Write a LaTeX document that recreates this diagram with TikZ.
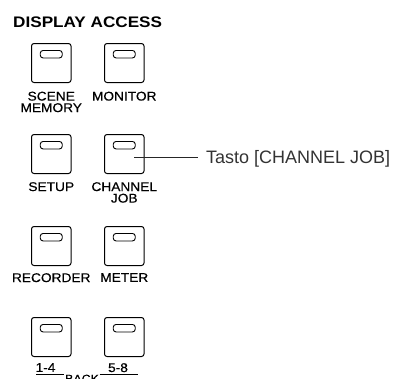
\documentclass[tikz,border=0pt]{standalone}
\usepackage{fontspec}
\setmainfont{Liberation Sans}
\newfontfamily\lblfont[FakeStretch=1.08,FakeBold=0.35]{Liberation Sans}
\newfontfamily\ttlfont[FakeStretch=1.12]{Liberation Sans}
\begin{document}
\begin{tikzpicture}[x=1pt,y=-1pt,
  btn/.style={draw, line width=1pt, rounded corners=2.5pt, minimum width=39.5pt, minimum height=39pt, inner sep=0pt, anchor=north west},
  led/.style={draw, line width=0.9pt, rounded corners=2.8pt, minimum width=22pt, minimum height=7.5pt, inner sep=0pt, anchor=north},
  lbl/.style={font=\lblfont\fontsize{12.7}{11.5}\selectfont, align=center, anchor=north, inner sep=0pt},
  uline/.style={line width=0.8pt}
]
\useasboundingbox (0,0) rectangle (398,378);
% title
\node[anchor=base west, inner sep=0pt, font=\ttlfont\bfseries\fontsize{15.3}{15.3}\selectfont] (title) at (13,27.5) {DISPLAY ACCESS};
% buttons
\node[btn] (b1) at (31,43) {};
\node[btn] (b2) at (104,43) {};
\node[btn] (b3) at (31,134) {};
\node[btn] (b4) at (104,134) {};
\node[btn] (b5) at (31,226) {};
\node[btn] (b6) at (104,226) {};
\node[btn] (b7) at (31,317) {};
\node[btn] (b8) at (104,317) {};
% leds
\foreach \b in {b1,b2,b3,b4,b5,b6,b7,b8}{
  \node[led] (led\b) at ([yshift=-7pt]\b.north) {};
}
% labels
\node[lbl] (t1) at ([yshift=-8.5pt]b1.south) {SCENE\\MEMORY};
\node[lbl] (t2) at ([yshift=-8.5pt]b2.south) {MONITOR};
\node[lbl] (t3) at ([yshift=-8pt]b3.south) {SETUP};
\node[lbl] (t4) at ([yshift=-8pt]b4.south) {CHANNEL\\JOB};
\node[lbl] (t5) at ([yshift=-7pt]b5.south) {RECORDER};
\node[lbl] (t6) at ([yshift=-7pt]b6.south) {METER};
% back row
\node[lbl] (n14) at (45.5,363) {1-4};
\node[lbl] (n58) at (118,363) {5-8};
\node[lbl, font=\lblfont\fontsize{11.5}{11.5}\selectfont, inner xsep=0.5pt] (back) at (82,374.5) {BACK};
\coordinate (u1a) at (36,374.5);
\coordinate (u2b) at (138,374.5);
\draw[uline] (u1a) -- (u1a -| back.west);
\draw[uline] (u2b -| back.east) -- (u2b);
% callout
\node[anchor=base west, inner sep=0pt, font=\fontsize{18}{18}\selectfont, text=black!80] (tasto) at (206,163.5) {Tasto [CHANNEL JOB]};
\coordinate (cjp) at (134,157);
\draw[line width=0.8pt, black!85] (cjp) -- ([xshift=-8pt]tasto.base west |- cjp);
\end{tikzpicture}
\end{document}
